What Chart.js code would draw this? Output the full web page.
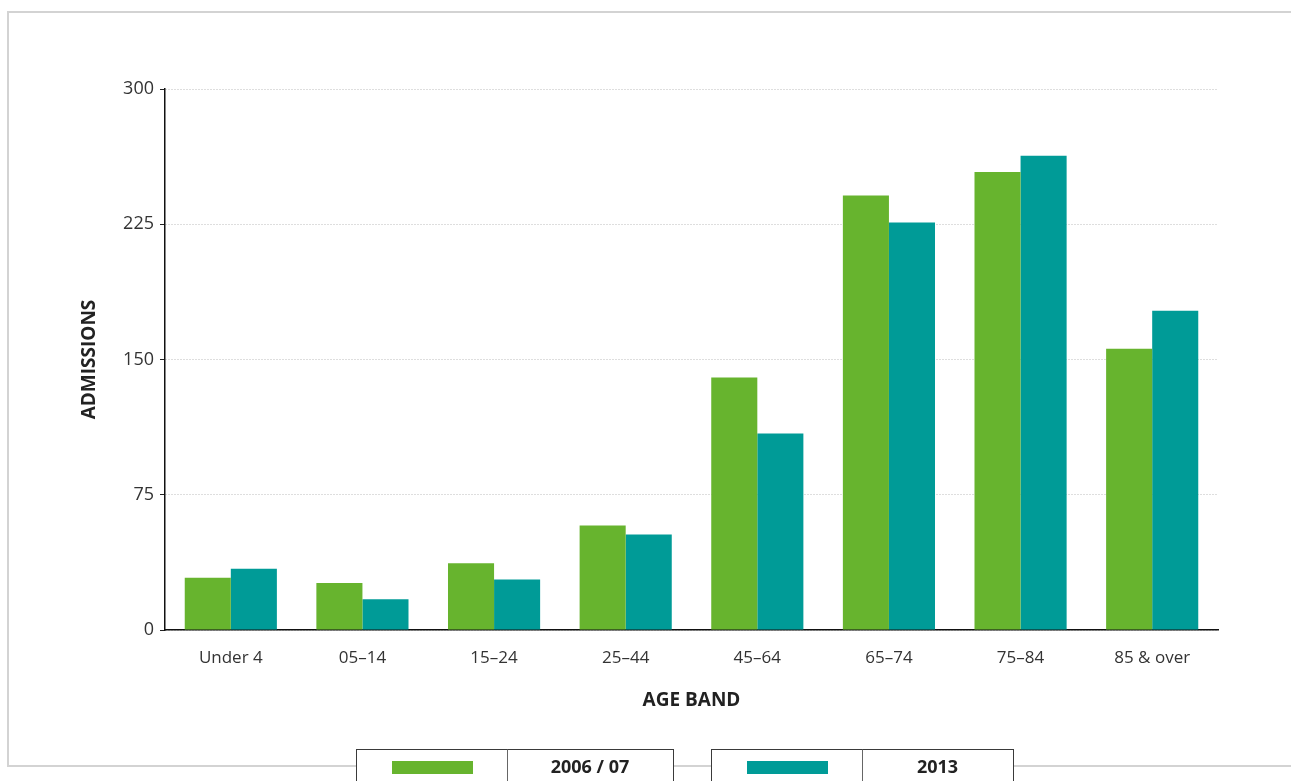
<!DOCTYPE html>
<html>
<head>
<meta charset="utf-8">
<script src="https://cdn.jsdelivr.net/npm/chart.js@4"></script>
<style>
  html, body { margin: 0; padding: 0; background: #fff; }
  canvas { display: block; }
</style>
</head>
<body>
<canvas id="c" width="1291" height="781"></canvas>
<script>
// ---- data ----
const categories = ["Under 4", "05\u201314", "15\u201324", "25\u201344", "45\u201364", "65\u201374", "75\u201384", "85 & over"];
const series2006 = [29, 26, 37, 58, 140, 241, 254, 156];
const series2013 = [34, 17, 28, 53, 109, 226, 263, 177];
const seriesLabels = ["2006 / 07", "2013"];
const yTicks = [0, 75, 150, 225, 300];
const xTitle = "AGE BAND";
const yTitle = "ADMISSIONS";

const GREEN = "#67b42e";
const TEAL = "#009b97";
const FONT = "'Open Sans', 'DejaVu Sans', sans-serif";

const framePlugin = {
  id: "frame",
  beforeDraw(chart) {
    const ctx = chart.ctx;
    ctx.save();
    ctx.strokeStyle = "#d3d3d3";
    ctx.lineWidth = 2;
    ctx.beginPath();
    ctx.moveTo(1300, 12);
    ctx.lineTo(8, 12);
    ctx.lineTo(8, 766);
    ctx.lineTo(1300, 766);
    ctx.stroke();
    ctx.restore();
  },
  afterDraw(chart) {
    const ctx = chart.ctx;
    const boxes = [
      { left: 356, div: 507, right: 673, sw: 392 },
      { left: 711, div: 862, right: 1013, sw: 747 }
    ];
    ctx.save();
    chart.data.datasets.forEach((ds, i) => {
      const b = boxes[i];
      const top = 749.5, bot = 800;
      ctx.fillStyle = "#fff";
      ctx.fillRect(b.left, top, b.right - b.left, bot - top);
      ctx.lineWidth = 1;
      ctx.strokeStyle = "#3a3a3a";
      ctx.strokeRect(b.left + 0.5, top, b.right - b.left, bot - top);
      ctx.strokeStyle = "#666";
      ctx.beginPath();
      ctx.moveTo(b.div + 0.5, top);
      ctx.lineTo(b.div + 0.5, bot);
      ctx.stroke();
      ctx.fillStyle = ds.backgroundColor;
      ctx.fillRect(b.sw, 761, 81, 13);
      ctx.fillStyle = "#222";
      ctx.font = "bold 18px " + FONT;
      ctx.textAlign = "center";
      ctx.textBaseline = "middle";
      ctx.fillText(ds.label, (b.div + b.right) / 2, 768);
    });
    ctx.restore();
  }
};

new Chart(document.getElementById("c"), {
  type: "bar",
  data: {
    labels: categories,
    datasets: [
      { label: seriesLabels[0], data: series2006, backgroundColor: GREEN, borderWidth: 0 },
      { label: seriesLabels[1], data: series2013, backgroundColor: TEAL, borderWidth: 0 }
    ]
  },
  options: {
    responsive: false,
    animation: false,
    events: [],
    layout: { padding: { top: 89, right: 73, bottom: 0, left: 0 } },
    datasets: { bar: { categoryPercentage: 0.7, barPercentage: 1.0 } },
    plugins: { legend: { display: false }, tooltip: { enabled: false }, title: { display: false } },
    scales: {
      x: {
        offset: true,
        grid: { display: false },
        border: { display: true, color: "#111", width: 1.5 },
        ticks: { color: "#333", font: { family: FONT, size: 17 }, padding: 10 },
        title: { display: true, text: xTitle, color: "#222", font: { family: FONT, size: 19, weight: "bold" }, padding: { top: 0, bottom: 69 } },
        afterFit(scale) { scale.height = 151; }
      },
      y: {
        min: 0, max: 300,
        afterBuildTicks(scale) { scale.ticks = yTicks.map(v => ({ value: v })); },
        grid: { display: true, color: "#bdbdbd", lineWidth: 1, drawTicks: true, tickLength: 5, tickColor: "#222", tickWidth: 1 },
        border: { display: true, color: "#111", width: 1.5, dash: [1, 2] },
        ticks: { color: "#333", font: { family: FONT, size: 18 }, padding: 6 },
        title: { display: true, text: yTitle, color: "#222", font: { family: FONT, size: 19, weight: "bold" }, padding: { top: 78, bottom: 0 } },
        afterFit(scale) { scale.width = 165; }
      }
    }
  },
  plugins: [framePlugin]
});
</script>
</body>
</html>
